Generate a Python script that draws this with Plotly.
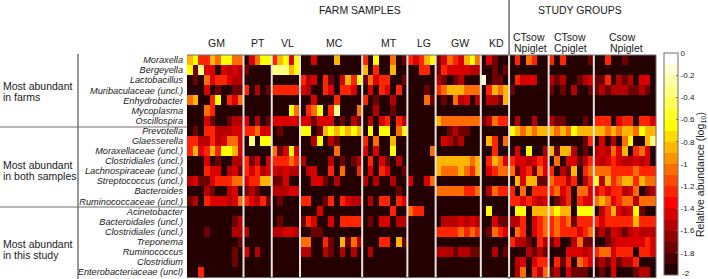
import plotly.graph_objects as go

W, H = 708, 279

genera = ["Moraxella", "Bergeyella", "Lactobacillus", "Muribaculaceae (uncl.)", "Enhydrobacter",
          "Mycoplasma", "Oscillospira", "Prevotella", "Glaesserella", "Moraxellaceae (uncl.)",
          "Clostridiales (uncl.)", "Lachnospiraceae (uncl.)", "Streptococcus (uncl.)", "Bacteroides",
          "Ruminococcaceae (uncl.)", "Acinetobacter", "Bacteroidales (uncl.)", "Clostridiales (uncl.)",
          "Treponema", "Ruminococcus", "Clostridium", "Enterobacteriaceae (uncl)"]
group_names = ["GM", "PT", "VL", "MC", "MT", "LG", "GW", "KD"]
study_names = [["CTsow", "Npiglet"], ["CTsow", "Cpiglet"], ["Csow", "Npiglet"]]
group_sizes = [10, 5, 5, 11, 8, 5, 8, 5, 7, 8, 11]
colorbar_ticks = [0, -0.2, -0.4, -0.6, -0.8, -1, -1.2, -1.4, -1.6, -1.8]
colorbar_bottom_label = "-2"

# abundance, one code per cell, per sample group:
# code -> log10 relative abundance
code_value = {"0": -1.95, "1": -1.75, "2": -1.55, "3": -1.45, "4": -1.25,
              "5": -1.05, "6": -0.85, "7": -0.65, "8": -0.35, "9": -0.15}
rows = [
 "6744657755 03577 46737 00300060000 40700501 43467 13543675 03100 0405400 40400001 00400100000",
 "7183303232 10000 88867 00000000000 60400600 00440 14333322 00101 0000000 00000000 00000000000",
 "0105344322 00000 00000 42304103647 15344001 00000 21012000 90110 0433300 21200123 11402120330",
 "0003010011 40201 44444 32004304430 03043040 00010 45666555 04656 1000000 10102001 12122211210",
 "5600470435 00000 00000 00300040000 40100200 00051 01052302 02216 0000000 00000000 00000000000",
 "0005400000 00000 00075 04570480005 00200100 00000 00000000 00000 0000000 00000000 00000000000",
 "0003100122 30201 33333 33133301021 02034042 00000 65555555 12544 0200200 21100010 44403440443",
 "0104422233 44533 01000 77016767676 07077057 00000 00121100 00000 7656566 65657666 66565665766",
 "4422423553 08077 00000 00270210000 40500600 00000 03212000 06405 0000000 00000014 03020570068",
 "4634647763 00000 51373 00000050000 30300700 00005 00000000 00400 0307002 61662010 23253604530",
 "0003010022 41303 44454 20000201012 04031020 00000 66666656 04653 4332343 05033124 32343223230",
 "0004330231 43423 32322 02300405004 03043001 00000 65556546 03455 5134153 40216045 55544445444",
 "2311344455 34466 11300 00331020000 20200200 30035 00000000 00000 0636611 54424024 72645664655",
 "0002100230 12100 22233 00000000000 00000010 00000 55555445 02544 4050444 45340553 34344235012",
 "1204333235 43241 01000 44001404322 02044043 00000 00000000 00000 4434323 01240433 56534552555",
 "0000000000 00000 00000 00030000000 00000400 54400 00000000 07000 0770666 67660777 02463237100",
 "0000000012 00000 01000 14300304444 01033022 00000 02223232 00311 2240345 45451444 43444446444",
 "0001000022 20000 22332 00110000000 00000000 00000 44445454 01543 0540345 45444345 12132123222",
 "0000000001 00000 00000 55004106152 00044061 00000 00000000 00000 4221042 13002511 00123333343",
 "0000000010 30200 00000 22002102020 02000000 00000 22212211 00201 0002121 00033323 45534440443",
 "0000000010 00000 00000 00000000000 00000000 00000 00000000 00000 0230344 04140543 12131224000",
 "0040000000 00000 00000 00000000000 00000000 00000 00000000 00000 0250425 12031110 01030001220",
]
z = [[code_value[c] for c in r.replace(" ", "")] for r in rows]
assert all(len(r) == sum(group_sizes) for r in z)

# 20-band "hot" colormap
def hot(i):
    r = min((i + 1) / 7, 1)
    g = min(max((i - 6) / 7, 0), 1)
    b = min(max((i - 13) / 6, 0), 1)
    return f"rgb({round(r*255)},{round(g*255)},{round(b*255)})"
cs = []
for i in range(20):
    cs += [[i / 20, hot(i)], [(i + 1) / 20, hot(i)]]

FONT = "Liberation Sans, Arial, sans-serif"
TXT = "#1a1a1a"
GRAY = "#6e6e6e"
def px(x): return x / W
def py(y): return 1 - y / H

fig = go.Figure(go.Heatmap(
    z=z, zmin=-2, zmax=0, colorscale=cs, xgap=0, ygap=0, hoverinfo="skip",
    colorbar=dict(
        x=px(664), xanchor="left", xpad=0, ypad=0,
        y=py(275), yanchor="bottom", lenmode="pixels", len=222,
        thicknessmode="pixels", thickness=14,
        outlinecolor=GRAY, outlinewidth=1,
        tickvals=colorbar_ticks, ticktext=[str(t) for t in colorbar_ticks],
        ticks="inside", ticklen=2, tickcolor=GRAY,
        tickfont=dict(family=FONT, size=8, color=TXT),
    ),
))

fig.update_layout(
    width=W, height=H, margin=dict(l=0, r=0, t=0, b=0),
    paper_bgcolor="white", plot_bgcolor="white", showlegend=False,
    xaxis=dict(domain=[px(187), px(656)], range=[-0.5, sum(group_sizes) - 0.5],
               showticklabels=False, ticks="", showgrid=False, zeroline=False, fixedrange=True),
    yaxis=dict(domain=[py(277), py(55)], range=[len(genera) - 0.5, -0.5],
               tickvals=list(range(len(genera))), ticktext=genera, ticks="", ticklabelstandoff=3,
               tickfont=dict(family=FONT, size=9.2, color=TXT, style="italic"),
               showgrid=False, zeroline=False, fixedrange=True),
)

# group separators and frame
edge = -0.5
edges = []
for s in group_sizes[:-1]:
    edge += s
    edges.append(edge)
for e in edges:
    fig.add_shape(type="line", xref="x", yref="paper", x0=e, x1=e, y0=py(277), y1=py(55),
                  line=dict(color="#e4e4e4", width=2))
study_edge = edges[7]
line = lambda x0, y0, x1, y1, w=1.2: fig.add_shape(
    type="line", xref="paper", yref="paper", x0=px(x0), y0=py(y0), x1=px(x1), y1=py(y1),
    line=dict(color=GRAY, width=w))
line(187, 55, 656, 55, 1)
line(187, 277.5, 656, 277.5, 1)
line(656, 55, 656, 277.5, 1)
line(78, 54, 78, 279, 1.4)
line(0, 127, 187, 127, 1)
line(0, 207, 187, 207, 1)
fig.add_shape(type="line", xref="x", yref="paper", x0=study_edge, x1=study_edge,
              y0=py(0), y1=py(55), line=dict(color="#444", width=1.2))
fig.add_shape(type="line", xref="x", yref="paper", x0=study_edge, x1=study_edge,
              y0=py(277), y1=py(279), line=dict(color="#444", width=1.2))

def label(text, x, y, size=10.5, anchor="center", angle=0):
    fig.add_annotation(text=text, xref="paper", yref="paper", x=px(x), y=py(y), showarrow=False,
                       xanchor=anchor, yanchor="middle", align=anchor, textangle=angle,
                       font=dict(family=FONT, size=size, color=TXT))

label("FARM SAMPLES", 360, 10)
label("STUDY GROUPS", 580, 10)
for name, cx in zip(group_names, [216, 258, 287, 334, 389, 424, 460, 496]):
    label(name, cx, 43)
for (top, bottom), cx_top, cx_bottom in zip(study_names, [529, 570, 622], [530, 570, 626]):
    label(top, cx_top, 37)
    label(bottom, cx_bottom, 47.5)
for text, y in [("Most abundant", 86), ("in farms", 96.5),
                ("Most abundant", 165), ("in both samples", 175.5),
                ("Most abundant", 244), ("in this study", 254.5)]:
    label(text, 1, y, anchor="left")
label("Relative abundance (log<sub>10</sub>)", 701, 175, size=10.5, angle=-90)
label(colorbar_bottom_label, 680, 273.5, size=8, anchor="left")

fig.write_html("out.html", config={"displayModeBar": False},
               post_script="document.body.style.margin='0';document.documentElement.style.overflow='hidden';")
